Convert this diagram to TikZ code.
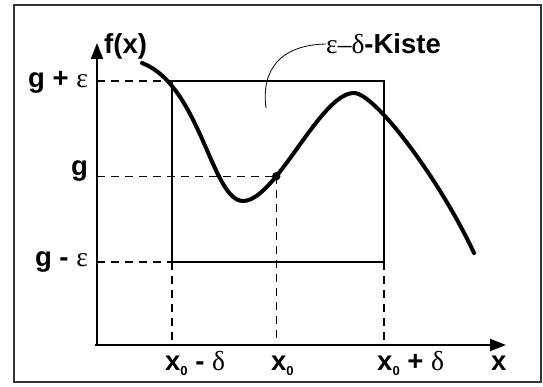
\documentclass[tikz,border=0pt]{standalone}
\usepackage{fontspec}
\setmainfont{Liberation Sans}
\newfontfamily\sym{Liberation Serif}
\usetikzlibrary{arrows.meta}
\newcommand{\zsub}{\raisebox{-0.35ex}{\fontsize{13}{13}\selectfont 0}}
\begin{document}
\begin{tikzpicture}[x=1pt,y=-1pt,
  axis/.style={line width=2pt,-{Triangle[length=16pt,width=12pt]}},
  guide/.style={line width=1.4pt,dash pattern=on 8pt off 6pt},
  boxline/.style={line width=1.5pt},
  lbl/.style={font=\fontsize{27.5}{30}\selectfont\bfseries,inner sep=0pt},
  curve/.style={line width=4pt,line cap=round}]
\useasboundingbox (0,0) rectangle (543,387);
\draw[line width=1.3pt,draw=black!80] (14,5) rectangle (541,382);
% reference points
\coordinate (O) at (97,345);
\coordinate (Ytop) at (97,43);
\coordinate (Xstart) at (95,345);
\coordinate (Xend) at (506,345);
\coordinate (Yge) at (97,81);
\coordinate (Ygm) at (97,262);
\coordinate (BL) at (172,262);
\coordinate (TL) at (172,81);
\coordinate (TR) at (384,81);
\coordinate (BR) at (384,262);
\coordinate (Xa) at (172,345);
\coordinate (Xc) at (384,345);
\coordinate (C0) at (142,63);
\coordinate (Cmin) at (243,201);
\coordinate (Cmax) at (354,93);
\coordinate (Cend) at (474,253);
% function curve (drawn first to define the point P on it)
\draw[curve] (C0) .. controls (200,85) and (212,201) .. (Cmin)
  .. controls (276,201) and (320,93) .. coordinate[pos=0.31] (P) (Cmax)
  .. controls (375,93) and (440,180) .. (Cend);
% axes
\draw[axis] (O) -- (Ytop);
\draw[axis] (Xstart) -- (Xend);
% box
\draw[boxline] (BL) -- (TL) -- (TR) -- (BR) -- cycle;
% dashed guides
\draw[guide] (Yge) -- (TL);
\draw[guide] (Ygm) -- (BL);
\draw[guide] (P -| O) -- (P);
\draw[guide] (BL) -- (Xa);
\draw[guide] (P) -- (P |- O);
\draw[guide] (BR) -- (Xc);
\fill (P) circle (4.2pt);
% leader
\node[lbl,anchor=west] (kiste) at (326,44) {{\sym\mdseries ε–δ}-Kiste};
\coordinate (leadend) at (266,108);
\draw[line width=0.8pt] (leadend) .. controls (261,70) and (280,45) .. (kiste.west);
% labels
\node[lbl,anchor=west] (fx) at (104,46) {f(x)};
\node[lbl,anchor=east] (lge) at (88,82) {g + {\sym\mdseries ε}};
\node[lbl,anchor=east] (lg) at (88,171) {g};
\node[lbl,anchor=east] (lgm) at (88,262) {g - {\sym\mdseries ε}};
\node[lbl,anchor=base west] (la) at (165,370) {x\zsub\ - {\sym\mdseries δ}};
\node[lbl,anchor=base west] (lb) at (271,370) {x\zsub};
\node[lbl,anchor=base west] (lc) at (377,370) {x\zsub\ + {\sym\mdseries δ}};
\node[lbl,anchor=base west] (lx) at (491,370) {x};
\end{tikzpicture}
\end{document}
